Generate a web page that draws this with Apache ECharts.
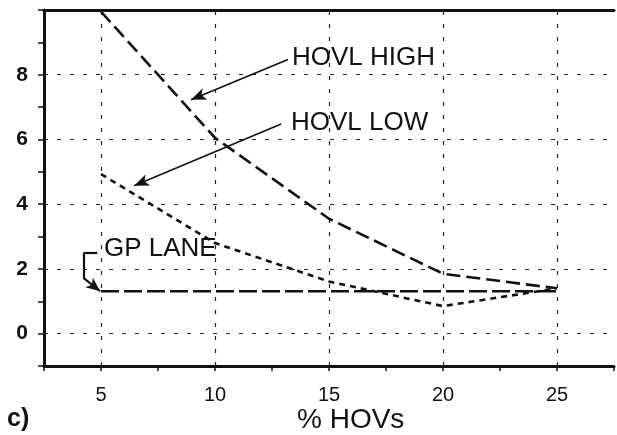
<!DOCTYPE html>
<html><head><meta charset="utf-8">
<script src="https://cdn.jsdelivr.net/npm/echarts@6/dist/echarts.min.js"></script>
<style>html,body{margin:0;padding:0;background:#fff}#c{width:617px;height:435px}</style>
</head><body><div id="c"></div>
<script>
const hovShare = [5, 10, 15, 20, 25];
const hovlHigh = [9.95, 6.05, 3.55, 1.85, 1.40];
const hovlLow  = [4.93, 2.80, 1.61, 0.85, 1.40];
const gpLane   = [1.31, 1.31, 1.31, 1.31, 1.31];
const xGrid = [5, 10, 15, 20, 25];
const yGrid = [0, 2, 4, 6, 8];
const xLabel = '% HOVs';
const panelTag = 'c)';

const FONT = '"Liberation Sans", Arial, sans-serif';
const pair = (xs, ys) => xs.map((x, i) => [x, ys[i]]);
const gridLines = [];
xGrid.forEach(v => gridLines.push({xAxis: v}));
yGrid.forEach(v => gridLines.push({yAxis: v}));

const arrowStyle = {color: '#111', width: 1.6, type: 'solid'};
const seg = (a, b) => [{coord: a}, {coord: b}];

const chart = echarts.init(document.getElementById('c'), null, {renderer: 'canvas'});
chart.setOption({
  animation: false,
  backgroundColor: '#fff',
  grid: {left: 44, right: 0, top: 10, bottom: 69},
  xAxis: [{
    type: 'value', min: 2.5, max: 27.5, interval: 2.5,
    axisLine: {show: true, onZero: false, lineStyle: {color: '#111', width: 3}},
    axisTick: {show: true, length: 5, lineStyle: {color: '#111', width: 1.5}},
    axisLabel: {margin: 19, fontFamily: FONT, fontSize: 20, color: '#111',
      formatter: v => (v % 5 === 0 ? String(v) : '')},
    splitLine: {show: false}
  }, {
    type: 'value', position: 'top', min: 2.5, max: 27.5,
    axisLine: {show: true, onZero: false, lineStyle: {color: '#111', width: 3}},
    axisTick: {show: false}, axisLabel: {show: false}, splitLine: {show: false}
  }],
  yAxis: {
    type: 'value', min: -1, max: 10, interval: 1,
    axisLine: {show: true, onZero: false, lineStyle: {color: '#111', width: 3}},
    axisTick: {show: true, length: 6, lineStyle: {color: '#111', width: 1.5}},
    axisLabel: {margin: 16, fontFamily: FONT, fontSize: 21, fontWeight: 'bold', color: '#111',
      formatter: v => (v >= 0 && v < 10 && v % 2 === 0 ? String(v) : '')},
    splitLine: {show: false}
  },
  graphic: [
    {type: 'text', left: 292, top: 45, style: {text: 'HOVL HIGH', font: '26px ' + FONT, fill: '#111'}},
    {type: 'text', left: 291, top: 110, style: {text: 'HOVL LOW', font: '26px ' + FONT, fill: '#111'}},
    {type: 'text', left: 104, top: 236, style: {text: 'GP LANE', font: '26px ' + FONT, fill: '#111'}},
    {type: 'text', left: 297, top: 406, style: {text: xLabel, font: '28px ' + FONT, fill: '#111'}},
    {type: 'text', left: 7, top: 407, style: {text: panelTag, font: 'bold 25px ' + FONT, fill: '#111'}}
  ],
  series: [
    {
      name: 'grid', type: 'line', data: [], silent: true,
      markLine: {silent: true, symbol: ['none', 'none'], label: {show: false},
        lineStyle: {color: '#222', width: 1.2, type: [4, 9]}, data: gridLines}
    },
    {
      name: 'HOVL HIGH', type: 'line', data: pair(hovShare, hovlHigh), showSymbol: false,
      lineStyle: {color: '#111', width: 2.6, type: [14, 6]},
      markLine: {silent: true, symbol: ['none', 'arrow'], symbolSize: [9, 15], label: {show: false},
        lineStyle: arrowStyle,
        data: [seg([13.2, 8.47], [8.95, 7.23])]}
    },
    {
      name: 'HOVL LOW', type: 'line', data: pair(hovShare, hovlLow), showSymbol: false,
      lineStyle: {color: '#111', width: 2.6, type: [6, 5]},
      markLine: {silent: true, symbol: ['none', 'arrow'], symbolSize: [9, 15], label: {show: false},
        lineStyle: arrowStyle,
        data: [seg([12.9, 6.48], [6.45, 4.57])]}
    },
    {
      name: 'GP LANE', type: 'line', data: pair(hovShare, gpLane), showSymbol: false,
      lineStyle: {color: '#111', width: 2.6, type: [18, 5]},
      markLine: {silent: true, symbol: ['none', 'none'], label: {show: false},
        lineStyle: {color: '#111', width: 2.2, type: 'solid'},
        data: [seg([4.84, 2.49], [4.23, 2.49]), seg([4.23, 2.49], [4.23, 1.72])]}
    },
    {
      name: 'GP arrow', type: 'line', data: [], showSymbol: false,
      markLine: {silent: true, symbol: ['none', 'arrow'], symbolSize: [9, 14], label: {show: false},
        lineStyle: {color: '#111', width: 2.2, type: 'solid'},
        data: [seg([4.23, 1.72], [4.96, 1.31])]}
    }
  ]
});
</script></body></html>
